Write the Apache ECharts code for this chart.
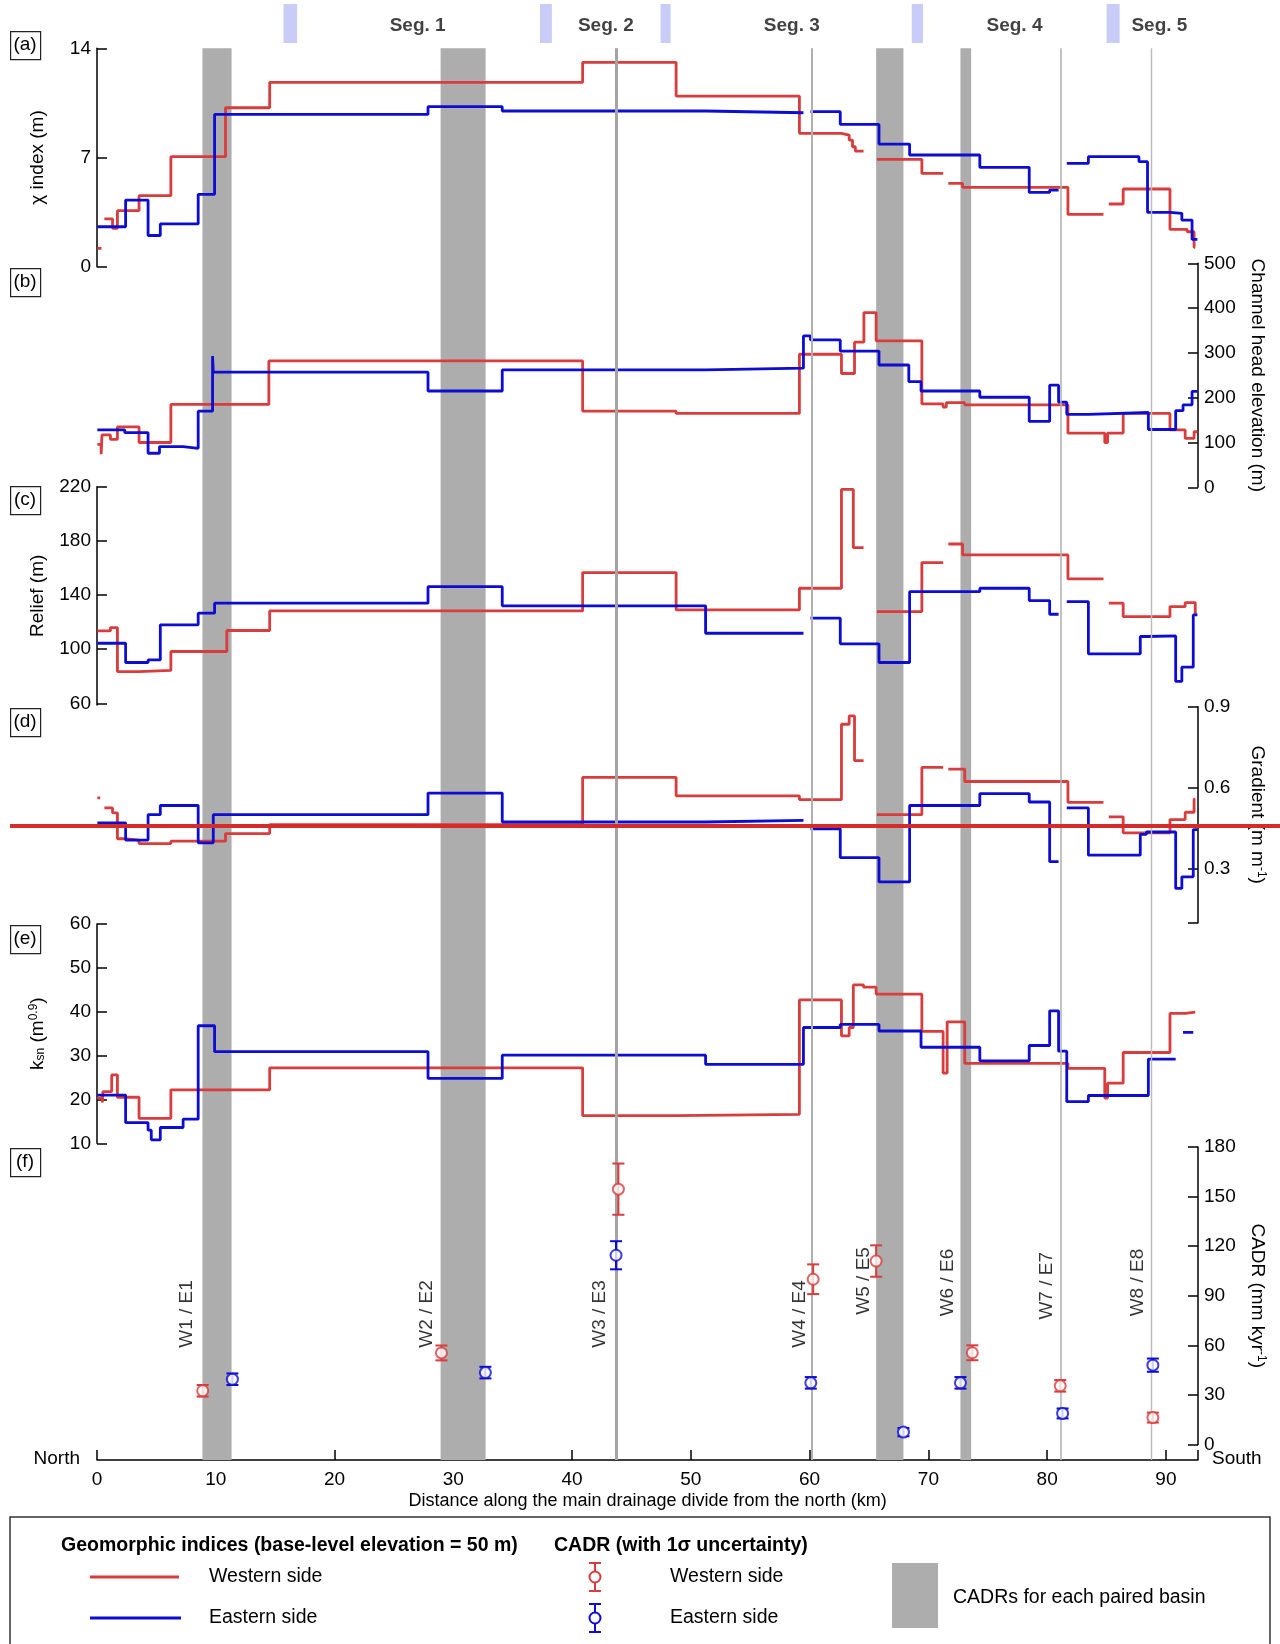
<!DOCTYPE html>
<html>
<head>
<meta charset="utf-8">
<script src="https://cdn.jsdelivr.net/npm/echarts@6.0.0/dist/echarts.min.js"></script>
<style>
  html, body { margin: 0; padding: 0; background: #fff; }
  #chart { width: 1280px; height: 1644px; }
</style>
</head>
<body>
<div id="chart"></div>
<script>
var kmMax = 92.7;

// segments on top
var segBars = [[15.7, 16.85], [37.3, 38.3], [47.45, 48.3], [68.6, 69.55], [85.0, 86.1]];
var segNames = ['Seg. 1', 'Seg. 2', 'Seg. 3', 'Seg. 4', 'Seg. 5'];
var segKm = [27.0, 42.85, 58.5, 77.25, 89.45];

// paired basins
var pairBands = [[8.88, 11.33], [28.93, 32.72], [65.6, 67.9], [72.7, 73.6]];
var pairLines = [43.75, 60.15, 81.15, 88.8];
var pairNames = ['W1 / E1', 'W2 / E2', 'W3 / E3', 'W4 / E4', 'W5 / E5', 'W6 / E6', 'W7 / E7', 'W8 / E8'];
var pairLabelKm = [7.6, 27.8, 42.3, 59.15, 64.6, 71.65, 79.95, 87.65];
var pairLabelAt = [79, 79, 79, 79, 99, 98, 96, 98];

// CADR (mm/kyr)
var cadrWestKm = [8.9, 29.0, 43.9, 60.3, 65.6, 73.7, 81.1, 88.9];
var cadrWest = [32.5, 55.4, 154.5, 100, 111, 55.5, 35.5, 16.3];
var cadrWestErr = [3.5, 4.5, 15.5, 9, 9.5, 4.5, 3.5, 3];
var cadrEastKm = [11.4, 32.7, 43.7, 60.1, 67.9, 72.7, 81.3, 88.9];
var cadrEast = [39.5, 43.5, 114.5, 37.3, 7.5, 37.3, 18.8, 48];
var cadrEastErr = [3.5, 3.5, 8.5, 3.5, 2.5, 3.5, 3, 4];

// step series: [start km, value], value null = gap
var chiWest = [[0.03,1.18],[0.38,null],[0.62,3.06],[1.31,2.46],[1.72,3.59],[3.54,4.55],[6.22,7.05],[10.82,10.19],[14.54,11.82],[40.89,13.1],[48.76,10.94],[59.14,8.55],[62.68,8.44],[63.33,8.12],[63.61,7.69],[63.85,7.41],[64.54,null],[65.67,6.88],[69.45,5.98],[71.24,null],[71.68,5.34],[72.88,5.09],[81.75,3.35],[84.74,null],[85.19,4.02],[86.4,4.98],[90.34,2.39],[91.79,2.24],[92.37,1.24],[92.47,null]];
var chiEast = [[0.03,2.56],[2.41,4.27],[4.30,2.0],[5.33,2.74],[8.52,4.64],[9.90,9.76],[27.87,10.26],[34.12,9.98],[51.24,9.87],[59.48,null],[60.07,9.94],[62.58,9.12],[65.84,7.86],[68.42,7.16],[74.33,6.37],[78.49,4.76],[80.21,4.91],[80.96,null],[81.65,6.62],[83.47,7.05],[87.73,6.73],[88.45,3.48],[90.34,3.42],[91.34,2.99],[92.20,1.75],[92.65,null]];

var elevWest = [[0.03,96],[0.35,74],[0.42,117],[1.13,107],[1.72,135],[3.54,100],[6.22,185],[14.47,282],[40.89,170],[48.76,165],[59.14,297],[62.68,254],[63.78,324],[64.57,390],[65.60,327],[69.45,186],[71.24,179],[71.51,189],[73.06,184],[81.75,121],[84.85,100],[85.09,121],[86.40,165],[90.34,128],[91.62,109],[92.37,124],[92.65,null]];
var elevEast = [[0.03,128],[2.34,122],[4.30,76],[5.26,91],[7.25,87],[8.52,170],[9.73,293],[9.79,257],[27.87,215],[34.12,262],[51.24,266],[59.48,338],[60.07,329],[62.58,304],[65.84,273],[68.35,236],[69.38,215],[74.33,201],[78.49,147],[80.21,228],[80.96,190],[81.65,163],[83.47,167],[88.52,129],[90.82,171],[91.44,184],[92.20,214],[92.65,null]];

var reliefWest = [[0.03,113.5],[1.13,116],[1.72,83.5],[3.54,84.3],[6.22,98.3],[10.93,113.8],[14.54,128.3],[40.89,156.6],[48.76,129],[59.14,145],[62.68,218],[63.68,175],[64.54,null],[65.67,127.8],[69.45,164],[71.24,null],[71.68,177.7],[72.88,169.6],[81.75,151.9],[84.74,null],[85.19,134],[86.40,124],[90.34,131.5],[91.62,134.4],[92.47,126],[92.6,null]];
var reliefEast = [[0.03,104.4],[2.41,90.2],[4.30,92.1],[5.33,118],[8.52,126.6],[9.90,134],[27.87,146.2],[34.12,132],[51.24,111.8],[59.48,null],[60.07,123],[62.58,104],[65.84,90.2],[68.42,142.5],[74.33,145],[78.49,135.9],[80.21,125.8],[80.96,null],[81.65,135.2],[83.47,96.6],[87.84,109.4],[88.45,109.8],[90.82,76.2],[91.34,86.7],[92.30,125.3],[92.65,null]];

var gradWest = [[0.03,0.562],[0.27,null],[0.62,0.525],[1.31,0.507],[1.72,0.411],[2.34,0.406],[3.54,0.393],[6.22,0.402],[10.82,0.43],[14.54,0.463],[40.89,0.638],[48.76,0.57],[59.14,0.556],[62.68,0.835],[63.33,0.866],[63.78,0.70],[64.54,null],[65.67,0.50],[69.45,0.675],[71.24,null],[71.68,0.669],[73.06,0.623],[81.75,0.546],[84.74,null],[85.19,0.492],[86.40,0.433],[90.34,0.482],[91.62,0.509],[92.37,0.558],[92.47,null]];
var gradEast = [[0.03,0.47],[2.41,0.406],[4.30,0.5],[5.33,0.534],[8.52,0.396],[9.79,0.5],[27.87,0.58],[34.12,0.473],[51.24,0.479],[59.48,null],[60.07,0.448],[62.58,0.341],[65.84,0.251],[68.42,0.534],[74.33,0.578],[78.49,0.547],[80.21,0.326],[80.96,null],[81.65,0.525],[83.47,0.35],[87.84,0.427],[88.35,0.436],[90.82,0.227],[91.34,0.27],[92.30,0.445],[92.65,null]];

var ksnWest = [[0.03,20.3],[0.45,19.3],[0.5,21.8],[1.24,25.6],[1.72,20.5],[3.54,15.7],[6.22,22.2],[14.54,27.2],[40.89,16.3],[48.76,16.6],[59.14,42.7],[62.68,34.5],[63.33,36.4],[63.68,46.1],[64.54,45.6],[65.60,44.0],[69.45,35.5],[71.24,26.0],[71.58,37.7],[73.06,28.2],[81.75,27.1],[84.85,20.3],[85.09,23.7],[86.40,30.7],[90.34,39.6],[91.62,39.9],[92.47,null]];
var ksnEast = [[0.03,21.0],[2.41,14.7],[4.30,13.0],[4.57,10.8],[5.33,13.6],[7.25,15.5],[8.52,36.8],[9.90,30.9],[27.87,24.8],[34.12,30.1],[51.24,28.0],[59.48,36.4],[62.58,37.1],[65.84,35.6],[69.38,31.9],[74.33,28.8],[78.49,32.3],[80.21,40.2],[80.96,31.0],[81.65,19.5],[83.47,20.9],[88.52,29.2],[90.82,null],[91.44,35.3],[92.30,null]];

// tick values
var kmTicks = [0, 10, 20, 30, 40, 50, 60, 70, 80, 90];
var chiTicks = [0, 7, 14];
var elevTicks = [0, 100, 200, 300, 400, 500];
var reliefTicks = [60, 100, 140, 180, 220];
var gradTicks = [0.3, 0.6, 0.9];
var ksnTicks = [10, 20, 30, 40, 50, 60];
var cadrTicks = [0, 30, 60, 90, 120, 150, 180];

var RED = '#d83c3c';
var BLUE = '#0c0cd2';
var FONT = 'Liberation Sans, Arial, sans-serif';
var pairLineWidth = [3, 2, 1.6, 1.4];
var pairLineColor = ['#a4a4a4', '#b0b0b0', '#b4b4b4', '#bbbbbb'];

function stepData(arr) {
  var out = [];
  for (var i = 0; i < arr.length - 1; i++) {
    var v = arr[i][1];
    if (v === null) {
      out.push([arr[i][0], '-']);
      continue;
    }
    out.push([arr[i][0], v], [arr[i + 1][0], v]);
  }
  return out;
}

var myChart = echarts.init(document.getElementById('chart'));

var gridTops = [48.3, 263.3, 486.7, 706.7, 924, 1147, 48.3, 4, 1450];
var gridHeights = [218.4, 224, 218.3, 216, 219.3, 297.5, 1411.7, 39, 10];
var grids = [];
var xAxes = [];
for (var g = 0; g < gridTops.length; g++) {
  grids.push({ left: 97, right: 82, top: gridTops[g], height: gridHeights[g] });
  xAxes.push({ gridIndex: g, type: 'value', min: 0, max: kmMax, show: false });
}
xAxes[8] = {
  gridIndex: 8, type: 'value', min: 0, max: kmMax, position: 'bottom',
  axisLine: { onZero: false, lineStyle: { color: '#000', width: 1.5 } },
  axisTick: { inside: true, length: 10, customValues: kmTicks.concat([kmMax]), lineStyle: { color: '#000', width: 1.5 } },
  axisLabel: { customValues: kmTicks, fontSize: 19, color: '#000', fontFamily: FONT, margin: 10 },
  splitLine: { show: false },
  name: 'Distance along the main drainage divide from the north (km)',
  nameLocation: 'middle', nameGap: 32,
  nameTextStyle: { fontSize: 18, color: '#000', fontFamily: FONT }
};

var richName = {
  k: { fontSize: 19, color: '#000', fontFamily: FONT },
  s: { fontSize: 12, color: '#000', fontFamily: FONT, verticalAlign: 'bottom', lineHeight: 10 },
  p: { fontSize: 12, color: '#000', fontFamily: FONT, verticalAlign: 'top', lineHeight: 10 }
};

function yAxisOf(grid, pos, min, max, ticks, labels, name, gap) {
  return {
    gridIndex: grid, type: 'value', position: pos, min: min, max: max,
    axisLine: { show: true, onZero: false, lineStyle: { color: '#000', width: 1.5 } },
    axisTick: { show: true, inside: true, length: 10, customValues: ticks, lineStyle: { color: '#000', width: 1.5 } },
    axisLabel: { customValues: labels, fontSize: 19, color: '#000', fontFamily: FONT, margin: 6 },
    splitLine: { show: false },
    name: name, nameLocation: 'middle', nameGap: gap,
    nameRotate: pos == 'left' ? 90 : -90,
    nameTextStyle: { fontSize: 19, color: '#000', fontFamily: FONT, rich: richName }
  };
}

var yAxes = [
  yAxisOf(0, 'left', 0, 14, chiTicks, chiTicks, 'χ index (m)', 50),
  yAxisOf(1, 'right', 0, 500, elevTicks, elevTicks, 'Channel head elevation (m)', 50),
  yAxisOf(2, 'left', 58.8, 220, reliefTicks, reliefTicks, 'Relief (m)', 50),
  yAxisOf(3, 'right', 0.1, 0.9, [0.1].concat(gradTicks), gradTicks, '{k|Gradient (m m}{p|-1}{k|)}', 50),
  yAxisOf(4, 'left', 10, 60, ksnTicks, ksnTicks, '{k|k}{s|sn}{k| (m}{p|0.9}{k|)}', 50),
  yAxisOf(5, 'right', 0, 180, cadrTicks, cadrTicks, '{k|CADR (mm kyr}{p|-1}{k|)}', 50),
  { gridIndex: 6, type: 'value', min: 0, max: 1, show: false },
  { gridIndex: 7, type: 'value', min: 0, max: 1, show: false },
  { gridIndex: 8, type: 'value', min: 0, max: 1, show: false }
];

var series = [];

// gray bands and thin lines
series.push({
  type: 'line', xAxisIndex: 6, yAxisIndex: 6, data: [], z: 0, silent: true,
  markArea: {
    silent: true,
    itemStyle: { color: '#adadad' },
    data: pairBands.map(function (b) { return [{ xAxis: b[0] }, { xAxis: b[1] }]; })
  },
  markLine: {
    silent: true, symbol: ['none', 'none'], label: { show: false },
    data: pairLines.map(function (x, i) {
      return { xAxis: x, lineStyle: { color: pairLineColor[i], width: pairLineWidth[i], type: 'solid' } };
    })
  }
});

// segment bars
series.push({
  type: 'line', xAxisIndex: 7, yAxisIndex: 7, data: [], silent: true,
  markArea: {
    silent: true,
    itemStyle: { color: '#c8ccf7' },
    data: segBars.map(function (b) { return [{ xAxis: b[0] }, { xAxis: b[1] }]; })
  }
});
series.push({
  type: 'scatter', xAxisIndex: 7, yAxisIndex: 7, symbolSize: 0, silent: true,
  data: segKm.map(function (x, i) { return [x, 0.44, segNames[i]]; }),
  label: {
    show: true, position: 'inside', formatter: function (p) { return p.data[2]; },
    fontSize: 19, fontWeight: 'bold', color: '#111', fontFamily: FONT
  }
});

var panels = [
  [chiWest, chiEast], [elevWest, elevEast], [reliefWest, reliefEast],
  [gradWest, gradEast], [ksnWest, ksnEast]
];
for (var p = 0; p < panels.length; p++) {
  series.push({
    type: 'line', xAxisIndex: p, yAxisIndex: p, data: stepData(panels[p][0]),
    symbol: 'none', connectNulls: false, z: 3,
    lineStyle: { color: RED, width: 2.8 }
  });
  series.push({
    type: 'line', xAxisIndex: p, yAxisIndex: p, data: stepData(panels[p][1]),
    symbol: 'none', connectNulls: false, z: 4,
    lineStyle: { color: BLUE, width: 2.8 }
  });
}

function errorBars(kms, vals, errs, color) {
  return {
    type: 'custom', xAxisIndex: 5, yAxisIndex: 5, z: 5,
    data: kms.map(function (x, i) { return [x, vals[i] - errs[i], vals[i] + errs[i]]; }),
    renderItem: function (params, api) {
      var lo = api.coord([api.value(0), api.value(1)]);
      var hi = api.coord([api.value(0), api.value(2)]);
      var w = 6;
      var st = { stroke: color, lineWidth: 2 };
      return {
        type: 'group',
        children: [
          { type: 'line', shape: { x1: lo[0], y1: lo[1], x2: hi[0], y2: hi[1] }, style: st },
          { type: 'line', shape: { x1: lo[0] - w, y1: lo[1], x2: lo[0] + w, y2: lo[1] }, style: st },
          { type: 'line', shape: { x1: hi[0] - w, y1: hi[1], x2: hi[0] + w, y2: hi[1] }, style: st }
        ]
      };
    }
  };
}
series.push(errorBars(cadrWestKm, cadrWest, cadrWestErr, RED));
series.push(errorBars(cadrEastKm, cadrEast, cadrEastErr, BLUE));
series.push({
  type: 'scatter', xAxisIndex: 5, yAxisIndex: 5, z: 6, symbol: 'circle', symbolSize: 11,
  data: cadrWestKm.map(function (x, i) { return [x, cadrWest[i]]; }),
  itemStyle: { color: '#fff', borderColor: RED, borderWidth: 2 }
});
series.push({
  type: 'scatter', xAxisIndex: 5, yAxisIndex: 5, z: 6, symbol: 'circle', symbolSize: 11,
  data: cadrEastKm.map(function (x, i) { return [x, cadrEast[i]]; }),
  itemStyle: { color: '#fff', borderColor: BLUE, borderWidth: 2 }
});
series.push({
  type: 'scatter', xAxisIndex: 5, yAxisIndex: 5, z: 6, symbolSize: 0, silent: true,
  data: pairLabelKm.map(function (x, i) { return [x, pairLabelAt[i], pairNames[i]]; }),
  label: {
    show: true, position: 'inside', rotate: 90, formatter: function (p) { return p.data[2]; },
    fontSize: 19, color: '#000', fontFamily: FONT
  }
});

// panel tags, North/South, legend
var graphics = [];
var tagNames = ['(a)', '(b)', '(c)', '(d)', '(e)', '(f)'];
var tagTops = [31, 268, 486, 708, 925, 1148];
tagNames.forEach(function (t, i) {
  graphics.push({ type: 'rect', left: 10, top: tagTops[i], shape: { width: 30, height: 28 },
    style: { fill: '#fff', stroke: '#222', lineWidth: 1.2 } });
  graphics.push({ type: 'text', x: 25, y: tagTops[i] + 14,
    style: { text: t, font: '19px ' + FONT, fill: '#000', align: 'center', verticalAlign: 'middle' } });
});
graphics.push({ type: 'text', x: 80, y: 1459,
  style: { text: 'North', font: '19px ' + FONT, fill: '#000', align: 'right', verticalAlign: 'middle' } });
graphics.push({ type: 'text', x: 1212, y: 1459,
  style: { text: 'South', font: '19px ' + FONT, fill: '#000', align: 'left', verticalAlign: 'middle' } });

// legend box
graphics.push({ type: 'rect', shape: { x: 10, y: 1517, width: 1260, height: 140 },
  style: { fill: 'none', stroke: '#333', lineWidth: 1.5 } });
function legText(x, y, t, bold) {
  graphics.push({ type: 'text', x: x, y: y,
    style: { text: t, font: (bold ? 'bold ' : '') + '19.5px ' + FONT, fill: '#000', align: 'left', verticalAlign: 'middle' } });
}
legText(61, 1546, 'Geomorphic indices (base-level elevation = 50 m)', true);
legText(554, 1546, 'CADR (with 1σ uncertainty)', true);
graphics.push({ type: 'line', shape: { x1: 90, y1: 1577, x2: 179, y2: 1577 }, style: { stroke: RED, lineWidth: 3 } });
graphics.push({ type: 'line', shape: { x1: 90, y1: 1618, x2: 181, y2: 1618 }, style: { stroke: BLUE, lineWidth: 3 } });
legText(209, 1577, 'Western side');
legText(209, 1618, 'Eastern side');
[[1577, RED], [1618, BLUE]].forEach(function (e) {
  var y = e[0], c = e[1];
  var st = { stroke: c, lineWidth: 2 };
  graphics.push({ type: 'line', shape: { x1: 595, y1: y - 14, x2: 595, y2: y + 14 }, style: st });
  graphics.push({ type: 'line', shape: { x1: 589, y1: y - 14, x2: 601, y2: y - 14 }, style: st });
  graphics.push({ type: 'line', shape: { x1: 589, y1: y + 14, x2: 601, y2: y + 14 }, style: st });
  graphics.push({ type: 'circle', shape: { cx: 595, cy: y, r: 5.5 }, style: { fill: '#fff', stroke: c, lineWidth: 2 } });
});
legText(670, 1577, 'Western side');
legText(670, 1618, 'Eastern side');
graphics.push({ type: 'rect', shape: { x: 892, y: 1563, width: 46, height: 65 }, style: { fill: '#adadad' } });
legText(953, 1598, 'CADRs for each paired basin');

// red mark across panel (d)
graphics.push({ type: 'line', z: 100, shape: { x1: 10, y1: 826, x2: 1280, y2: 826 },
  style: { stroke: '#d42b2b', lineWidth: 4 } });

var option = {
  animation: false,
  backgroundColor: '#fff',
  textStyle: { fontFamily: FONT },
  grid: grids,
  xAxis: xAxes,
  yAxis: yAxes,
  series: series,
  graphic: graphics
};
myChart.setOption(option);
</script>
</body>
</html>
